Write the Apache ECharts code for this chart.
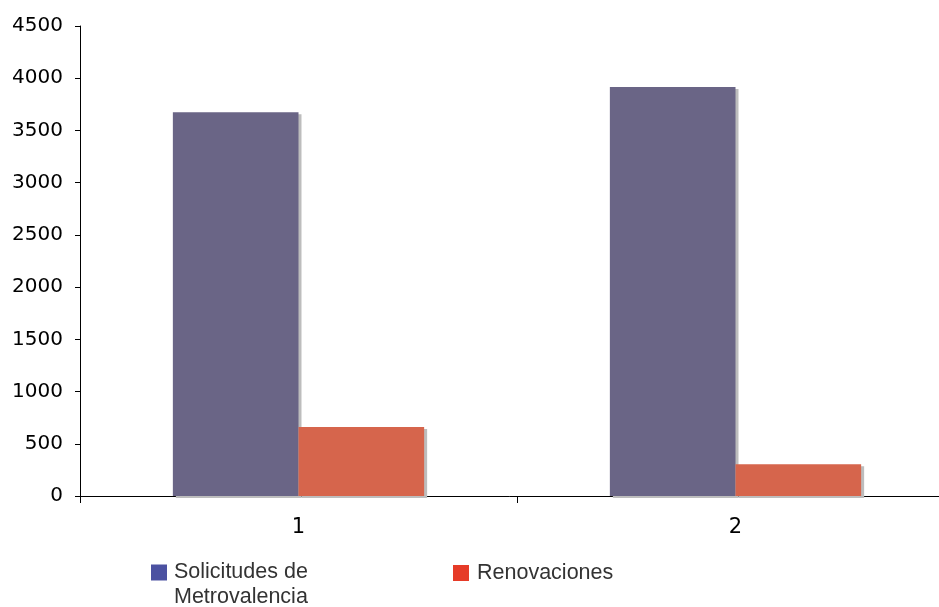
<!DOCTYPE html>
<html><head><meta charset="utf-8">
<script src="https://cdn.jsdelivr.net/npm/echarts@6/dist/echarts.min.js"></script>
<style>html,body{margin:0;padding:0;background:#fff}#c{width:939px;height:607px}</style>
</head><body><div id="c"></div>
<script>
const categories = ['1', '2'];
const solicitudes = [3675, 3915];
const renovaciones = [660, 305];
const yTicks = [0, 500, 1000, 1500, 2000, 2500, 3000, 3500, 4000, 4500];
const seriesNames = ['Solicitudes de Metrovalencia', 'Renovaciones'];

const chart = echarts.init(document.getElementById('c'));
const shadow = {shadowColor: '#bdbdbd', shadowOffsetX: 3, shadowOffsetY: 2, shadowBlur: 0};
chart.setOption({
  animation: false,
  grid: {left: 80, top: 26, height: 470, width: 874, containLabel: false, outerBoundsMode: 'none'},
  xAxis: {
    type: 'category', data: categories,
    axisLine: {lineStyle: {color: '#000', width: 1}},
    axisTick: {show: true, length: 7, lineStyle: {color: '#000'}},
    axisLabel: {fontFamily: 'DejaVu Sans', fontSize: 21, color: '#000', margin: 21}
  },
  yAxis: {
    type: 'value', min: yTicks[0], max: yTicks[yTicks.length - 1], interval: 500,
    splitLine: {show: false},
    axisLine: {show: true, lineStyle: {color: '#000', width: 1}},
    axisTick: {show: true, length: 5, lineStyle: {color: '#000'}},
    axisLabel: {fontFamily: 'DejaVu Sans', fontSize: 20, color: '#000', margin: 17,
                formatter: v => String(v)}
  },
  legend: [
    {data: [{name: seriesNames[0], itemStyle: {color: '#4b51a1'}}], left: 146, top: 530,
     itemWidth: 16, itemHeight: 16, icon: 'rect',
     formatter: () => '\nSolicitudes de\nMetrovalencia',
     textStyle: {fontFamily: 'Liberation Sans', fontSize: 21.5, color: '#333', lineHeight: 25, padding: [0, 0, 0, 2]}},
    {data: [{name: seriesNames[1], itemStyle: {color: '#e63b28'}}], left: 448, top: 557,
     itemWidth: 16, itemHeight: 16, icon: 'rect',
     textStyle: {fontFamily: 'Liberation Sans', fontSize: 21.5, color: '#333', padding: [0, 0, 0, 3]}}
  ],
  series: [
    {name: seriesNames[0], type: 'bar', data: solicitudes, barGap: '0%', barCategoryGap: '42.5%',
     itemStyle: Object.assign({color: '#6a6586'}, shadow)},
    {name: seriesNames[1], type: 'bar', data: renovaciones,
     itemStyle: Object.assign({color: '#d6654c'}, shadow)}
  ]
});
</script></body></html>
